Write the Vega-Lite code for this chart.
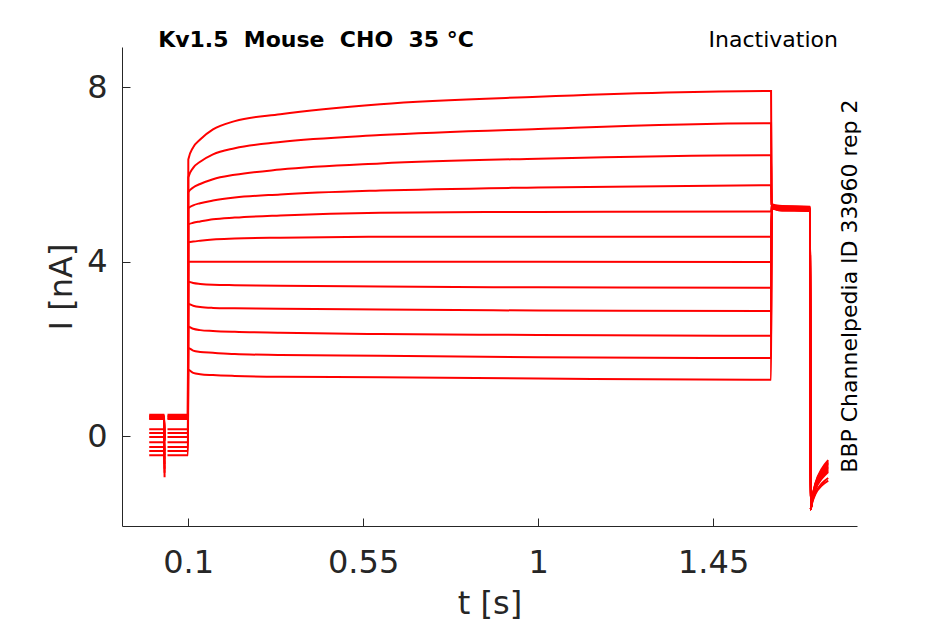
{
  "$schema": "https://vega.github.io/schema/vega-lite/v6.json",
  "width": 735,
  "height": 479,
  "autosize": "none",
  "padding": {"left": 122, "top": 47, "right": 88, "bottom": 98},
  "background": "white",
  "config": {
    "view": {"stroke": null},
    "font": "DejaVu Sans",
    "axis": {
      "grid": false,
      "domainColor": "#262626",
      "domainWidth": 1,
      "tickColor": "#262626",
      "tickWidth": 1,
      "tickSize": -8,
      "labelColor": "#262626",
      "labelFont": "DejaVu Sans",
      "labelFontSize": 32,
      "labelFlush": false,
      "labelOverlap": false,
      "titleColor": "#262626",
      "titleFont": "DejaVu Sans",
      "titleFontSize": 32,
      "titleFontWeight": "normal"
    }
  },
  "datasets": {
    "sweeps": [
      {"sweep": 1, "part": "a", "t": 0.0, "I": 0.49}, {"sweep": 1, "part": "a", "t": 0.0385, "I": 0.49}, {"sweep": 1, "part": "a", "t": 0.0395, "I": -0.01}, {"sweep": 1, "t": 0.047, "I": 0.49}, {"sweep": 1, "t": 0.0995, "I": 0.49},
      {"sweep": 1, "t": 0.1005, "I": 6.34}, {"sweep": 1, "t": 0.113, "I": 6.62}, {"sweep": 1, "t": 0.131, "I": 6.80}, {"sweep": 1, "t": 0.164, "I": 7.03}, {"sweep": 1, "t": 0.22, "I": 7.22}, {"sweep": 1, "t": 0.337, "I": 7.38}, {"sweep": 1, "t": 0.594, "I": 7.61}, {"sweep": 1, "t": 1.0, "I": 7.78}, {"sweep": 1, "t": 1.599, "I": 7.91},
      {"sweep": 1, "t": 1.6005, "I": 5.32}, {"sweep": 1, "t": 1.62, "I": 5.28}, {"sweep": 1, "t": 1.6995, "I": 5.26},
      {"sweep": 1, "t": 1.7005, "I": -1.68}, {"sweep": 1, "t": 1.705, "I": -1.52}, {"sweep": 1, "t": 1.713, "I": -1.33}, {"sweep": 1, "t": 1.73, "I": -1.13}, {"sweep": 1, "t": 1.746, "I": -1.02},

      {"sweep": 2, "part": "a", "t": 0.0, "I": 0.46}, {"sweep": 2, "part": "a", "t": 0.0385, "I": 0.46}, {"sweep": 2, "part": "a", "t": 0.0395, "I": -0.04}, {"sweep": 2, "t": 0.047, "I": 0.46}, {"sweep": 2, "t": 0.0995, "I": 0.46},
      {"sweep": 2, "t": 0.1005, "I": 5.93}, {"sweep": 2, "t": 0.113, "I": 6.15}, {"sweep": 2, "t": 0.131, "I": 6.29}, {"sweep": 2, "t": 0.164, "I": 6.46}, {"sweep": 2, "t": 0.22, "I": 6.60}, {"sweep": 2, "t": 0.337, "I": 6.74}, {"sweep": 2, "t": 0.594, "I": 6.90}, {"sweep": 2, "t": 1.0, "I": 7.04}, {"sweep": 2, "t": 1.599, "I": 7.17},
      {"sweep": 2, "t": 1.6005, "I": 5.31}, {"sweep": 2, "t": 1.62, "I": 5.27}, {"sweep": 2, "t": 1.6995, "I": 5.25},
      {"sweep": 2, "t": 1.7005, "I": -1.68}, {"sweep": 2, "t": 1.705, "I": -1.50}, {"sweep": 2, "t": 1.713, "I": -1.30}, {"sweep": 2, "t": 1.73, "I": -1.08}, {"sweep": 2, "t": 1.746, "I": -0.96},

      {"sweep": 3, "part": "a", "t": 0.0, "I": 0.44}, {"sweep": 3, "part": "a", "t": 0.0385, "I": 0.44}, {"sweep": 3, "part": "a", "t": 0.0395, "I": -0.06}, {"sweep": 3, "t": 0.047, "I": 0.44}, {"sweep": 3, "t": 0.0995, "I": 0.44},
      {"sweep": 3, "t": 0.1005, "I": 5.59}, {"sweep": 3, "t": 0.113, "I": 5.70}, {"sweep": 3, "t": 0.131, "I": 5.78}, {"sweep": 3, "t": 0.164, "I": 5.89}, {"sweep": 3, "t": 0.22, "I": 5.99}, {"sweep": 3, "t": 0.337, "I": 6.11}, {"sweep": 3, "t": 0.594, "I": 6.25}, {"sweep": 3, "t": 1.0, "I": 6.36}, {"sweep": 3, "t": 1.599, "I": 6.44},
      {"sweep": 3, "t": 1.6005, "I": 5.30}, {"sweep": 3, "t": 1.62, "I": 5.26}, {"sweep": 3, "t": 1.6995, "I": 5.24},
      {"sweep": 3, "t": 1.7005, "I": -1.68}, {"sweep": 3, "t": 1.705, "I": -1.47}, {"sweep": 3, "t": 1.713, "I": -1.22}, {"sweep": 3, "t": 1.73, "I": -0.97}, {"sweep": 3, "t": 1.746, "I": -0.82},

      {"sweep": 4, "part": "a", "t": 0.0, "I": 0.41}, {"sweep": 4, "part": "a", "t": 0.0385, "I": 0.41}, {"sweep": 4, "part": "a", "t": 0.0395, "I": -0.09}, {"sweep": 4, "t": 0.047, "I": 0.41}, {"sweep": 4, "t": 0.0995, "I": 0.41},
      {"sweep": 4, "t": 0.1005, "I": 5.22}, {"sweep": 4, "t": 0.113, "I": 5.29}, {"sweep": 4, "t": 0.131, "I": 5.34}, {"sweep": 4, "t": 0.164, "I": 5.40}, {"sweep": 4, "t": 0.22, "I": 5.47}, {"sweep": 4, "t": 0.337, "I": 5.54}, {"sweep": 4, "t": 0.594, "I": 5.63}, {"sweep": 4, "t": 1.0, "I": 5.70}, {"sweep": 4, "t": 1.599, "I": 5.75},
      {"sweep": 4, "t": 1.6005, "I": 5.29}, {"sweep": 4, "t": 1.62, "I": 5.25}, {"sweep": 4, "t": 1.6995, "I": 5.23},
      {"sweep": 4, "t": 1.7005, "I": -1.68}, {"sweep": 4, "t": 1.705, "I": -1.46}, {"sweep": 4, "t": 1.713, "I": -1.21}, {"sweep": 4, "t": 1.73, "I": -0.94}, {"sweep": 4, "t": 1.746, "I": -0.79},

      {"sweep": 5, "part": "a", "t": 0.0, "I": 0.39}, {"sweep": 5, "part": "a", "t": 0.0385, "I": 0.39}, {"sweep": 5, "part": "a", "t": 0.0395, "I": -0.11}, {"sweep": 5, "t": 0.047, "I": 0.39}, {"sweep": 5, "t": 0.0995, "I": 0.39},
      {"sweep": 5, "t": 0.1005, "I": 4.85}, {"sweep": 5, "t": 0.113, "I": 4.89}, {"sweep": 5, "t": 0.131, "I": 4.92}, {"sweep": 5, "t": 0.164, "I": 4.97}, {"sweep": 5, "t": 0.22, "I": 5.01}, {"sweep": 5, "t": 0.337, "I": 5.06}, {"sweep": 5, "t": 0.594, "I": 5.12}, {"sweep": 5, "t": 1.0, "I": 5.14}, {"sweep": 5, "t": 1.599, "I": 5.15},
      {"sweep": 5, "t": 1.6005, "I": 5.28}, {"sweep": 5, "t": 1.62, "I": 5.24}, {"sweep": 5, "t": 1.6995, "I": 5.22},
      {"sweep": 5, "t": 1.7005, "I": -1.68}, {"sweep": 5, "t": 1.705, "I": -1.45}, {"sweep": 5, "t": 1.713, "I": -1.19}, {"sweep": 5, "t": 1.73, "I": -0.92}, {"sweep": 5, "t": 1.746, "I": -0.76},

      {"sweep": 6, "part": "a", "t": 0.0, "I": 0.16}, {"sweep": 6, "part": "a", "t": 0.0385, "I": 0.16}, {"sweep": 6, "part": "a", "t": 0.0395, "I": -0.34}, {"sweep": 6, "t": 0.047, "I": 0.16}, {"sweep": 6, "t": 0.0995, "I": 0.16},
      {"sweep": 6, "t": 0.1005, "I": 4.44}, {"sweep": 6, "t": 0.113, "I": 4.46}, {"sweep": 6, "t": 0.131, "I": 4.48}, {"sweep": 6, "t": 0.164, "I": 4.51}, {"sweep": 6, "t": 0.22, "I": 4.53}, {"sweep": 6, "t": 0.337, "I": 4.55}, {"sweep": 6, "t": 0.594, "I": 4.57}, {"sweep": 6, "t": 1.0, "I": 4.57}, {"sweep": 6, "t": 1.599, "I": 4.57},
      {"sweep": 6, "t": 1.6005, "I": 5.27}, {"sweep": 6, "t": 1.62, "I": 5.23}, {"sweep": 6, "t": 1.6995, "I": 5.21},
      {"sweep": 6, "t": 1.7005, "I": -1.68}, {"sweep": 6, "t": 1.705, "I": -1.44}, {"sweep": 6, "t": 1.713, "I": -1.18}, {"sweep": 6, "t": 1.73, "I": -0.89}, {"sweep": 6, "t": 1.746, "I": -0.73},

      {"sweep": 7, "part": "a", "t": 0.0, "I": 0.07}, {"sweep": 7, "part": "a", "t": 0.0385, "I": 0.07}, {"sweep": 7, "part": "a", "t": 0.0395, "I": -0.43}, {"sweep": 7, "t": 0.047, "I": 0.07}, {"sweep": 7, "t": 0.0995, "I": 0.07},
      {"sweep": 7, "t": 0.1005, "I": 4.00}, {"sweep": 7, "t": 0.113, "I": 4.00}, {"sweep": 7, "t": 0.131, "I": 4.00}, {"sweep": 7, "t": 0.164, "I": 4.00}, {"sweep": 7, "t": 0.22, "I": 4.00}, {"sweep": 7, "t": 0.337, "I": 4.00}, {"sweep": 7, "t": 0.594, "I": 4.00}, {"sweep": 7, "t": 1.0, "I": 4.00}, {"sweep": 7, "t": 1.599, "I": 3.99},
      {"sweep": 7, "t": 1.6005, "I": 5.26}, {"sweep": 7, "t": 1.62, "I": 5.22}, {"sweep": 7, "t": 1.6995, "I": 5.20},
      {"sweep": 7, "t": 1.7005, "I": -1.68}, {"sweep": 7, "t": 1.705, "I": -1.44}, {"sweep": 7, "t": 1.713, "I": -1.16}, {"sweep": 7, "t": 1.73, "I": -0.87}, {"sweep": 7, "t": 1.746, "I": -0.70},

      {"sweep": 8, "part": "a", "t": 0.0, "I": -0.02}, {"sweep": 8, "part": "a", "t": 0.0385, "I": -0.02}, {"sweep": 8, "part": "a", "t": 0.0395, "I": -0.52}, {"sweep": 8, "t": 0.047, "I": -0.02}, {"sweep": 8, "t": 0.0995, "I": -0.02},
      {"sweep": 8, "t": 0.1005, "I": 3.54}, {"sweep": 8, "t": 0.113, "I": 3.51}, {"sweep": 8, "t": 0.131, "I": 3.49}, {"sweep": 8, "t": 0.164, "I": 3.47}, {"sweep": 8, "t": 0.22, "I": 3.46}, {"sweep": 8, "t": 0.337, "I": 3.45}, {"sweep": 8, "t": 0.594, "I": 3.43}, {"sweep": 8, "t": 1.0, "I": 3.41}, {"sweep": 8, "t": 1.599, "I": 3.40},
      {"sweep": 8, "t": 1.6005, "I": 5.25}, {"sweep": 8, "t": 1.62, "I": 5.21}, {"sweep": 8, "t": 1.6995, "I": 5.19},
      {"sweep": 8, "t": 1.7005, "I": -1.68}, {"sweep": 8, "t": 1.705, "I": -1.43}, {"sweep": 8, "t": 1.713, "I": -1.15}, {"sweep": 8, "t": 1.73, "I": -0.84}, {"sweep": 8, "t": 1.746, "I": -0.67},

      {"sweep": 9, "part": "a", "t": 0.0, "I": -0.14}, {"sweep": 9, "part": "a", "t": 0.0385, "I": -0.14}, {"sweep": 9, "part": "a", "t": 0.0395, "I": -0.64}, {"sweep": 9, "t": 0.047, "I": -0.14}, {"sweep": 9, "t": 0.0995, "I": -0.14},
      {"sweep": 9, "t": 0.1005, "I": 3.03}, {"sweep": 9, "t": 0.113, "I": 2.99}, {"sweep": 9, "t": 0.131, "I": 2.96}, {"sweep": 9, "t": 0.164, "I": 2.94}, {"sweep": 9, "t": 0.22, "I": 2.93}, {"sweep": 9, "t": 0.337, "I": 2.92}, {"sweep": 9, "t": 0.594, "I": 2.90}, {"sweep": 9, "t": 1.0, "I": 2.88}, {"sweep": 9, "t": 1.599, "I": 2.87},
      {"sweep": 9, "t": 1.6005, "I": 5.24}, {"sweep": 9, "t": 1.62, "I": 5.20}, {"sweep": 9, "t": 1.6995, "I": 5.18},
      {"sweep": 9, "t": 1.7005, "I": -1.68}, {"sweep": 9, "t": 1.705, "I": -1.42}, {"sweep": 9, "t": 1.713, "I": -1.13}, {"sweep": 9, "t": 1.73, "I": -0.82}, {"sweep": 9, "t": 1.746, "I": -0.64},

      {"sweep": 10, "part": "a", "t": 0.0, "I": -0.25}, {"sweep": 10, "part": "a", "t": 0.0385, "I": -0.25}, {"sweep": 10, "part": "a", "t": 0.0395, "I": -0.75}, {"sweep": 10, "t": 0.047, "I": -0.25}, {"sweep": 10, "t": 0.0995, "I": -0.25},
      {"sweep": 10, "t": 0.1005, "I": 2.51}, {"sweep": 10, "t": 0.113, "I": 2.46}, {"sweep": 10, "t": 0.131, "I": 2.43}, {"sweep": 10, "t": 0.164, "I": 2.41}, {"sweep": 10, "t": 0.22, "I": 2.39}, {"sweep": 10, "t": 0.337, "I": 2.37}, {"sweep": 10, "t": 0.594, "I": 2.34}, {"sweep": 10, "t": 1.0, "I": 2.32}, {"sweep": 10, "t": 1.599, "I": 2.30},
      {"sweep": 10, "t": 1.6005, "I": 5.23}, {"sweep": 10, "t": 1.62, "I": 5.19}, {"sweep": 10, "t": 1.6995, "I": 5.17},
      {"sweep": 10, "t": 1.7005, "I": -1.68}, {"sweep": 10, "t": 1.705, "I": -1.41}, {"sweep": 10, "t": 1.713, "I": -1.11}, {"sweep": 10, "t": 1.73, "I": -0.79}, {"sweep": 10, "t": 1.746, "I": -0.61},

      {"sweep": 11, "part": "a", "t": 0.0, "I": -0.34}, {"sweep": 11, "part": "a", "t": 0.0385, "I": -0.34}, {"sweep": 11, "part": "a", "t": 0.0395, "I": -0.84}, {"sweep": 11, "t": 0.047, "I": -0.34}, {"sweep": 11, "t": 0.0995, "I": -0.34},
      {"sweep": 11, "t": 0.1005, "I": 2.02}, {"sweep": 11, "t": 0.113, "I": 1.96}, {"sweep": 11, "t": 0.131, "I": 1.93}, {"sweep": 11, "t": 0.164, "I": 1.91}, {"sweep": 11, "t": 0.22, "I": 1.88}, {"sweep": 11, "t": 0.337, "I": 1.86}, {"sweep": 11, "t": 0.594, "I": 1.84}, {"sweep": 11, "t": 1.0, "I": 1.81}, {"sweep": 11, "t": 1.599, "I": 1.79},
      {"sweep": 11, "t": 1.6005, "I": 5.22}, {"sweep": 11, "t": 1.62, "I": 5.18}, {"sweep": 11, "t": 1.6995, "I": 5.16},
      {"sweep": 11, "t": 1.7005, "I": -1.68}, {"sweep": 11, "t": 1.705, "I": -1.41}, {"sweep": 11, "t": 1.713, "I": -1.10}, {"sweep": 11, "t": 1.73, "I": -0.77}, {"sweep": 11, "t": 1.746, "I": -0.58},

      {"sweep": 12, "part": "a", "t": 0.0, "I": -0.44}, {"sweep": 12, "part": "a", "t": 0.0385, "I": -0.44}, {"sweep": 12, "part": "a", "t": 0.0395, "I": -0.94}, {"sweep": 12, "t": 0.047, "I": -0.44}, {"sweep": 12, "t": 0.0995, "I": -0.44},
      {"sweep": 12, "t": 0.1005, "I": 1.52}, {"sweep": 12, "t": 0.113, "I": 1.45}, {"sweep": 12, "t": 0.131, "I": 1.42}, {"sweep": 12, "t": 0.164, "I": 1.40}, {"sweep": 12, "t": 0.22, "I": 1.38}, {"sweep": 12, "t": 0.337, "I": 1.36}, {"sweep": 12, "t": 0.594, "I": 1.35}, {"sweep": 12, "t": 1.0, "I": 1.32}, {"sweep": 12, "t": 1.599, "I": 1.29},
      {"sweep": 12, "t": 1.6005, "I": 5.22}, {"sweep": 12, "t": 1.62, "I": 5.18}, {"sweep": 12, "t": 1.6995, "I": 5.16},
      {"sweep": 12, "t": 1.7005, "I": -1.68}, {"sweep": 12, "t": 1.705, "I": -1.40}, {"sweep": 12, "t": 1.713, "I": -1.08}, {"sweep": 12, "t": 1.73, "I": -0.74}, {"sweep": 12, "t": 1.746, "I": -0.55}
    ]
  },
  "layer": [
    {
      "data": {"name": "sweeps"},
      "mark": {"type": "line", "color": "#ff0000", "strokeWidth": 2, "interpolate": "monotone", "clip": true},
      "encoding": {
        "x": {
          "field": "t",
          "type": "quantitative",
          "scale": {"domain": [-0.07, 1.82], "nice": false, "zero": false},
          "axis": {
            "values": [0.1, 0.55, 1, 1.45],
            "labelExpr": "'' + datum.value",
            "labelPadding": 29,
            "title": "t [s]",
            "titleBaseline": "alphabetic",
            "titleX": 367.5,
            "titleY": 87
          }
        },
        "y": {
          "field": "I",
          "type": "quantitative",
          "scale": {"domain": [-2.06, 8.92], "nice": false, "zero": false},
          "axis": {
            "values": [0, 4, 8],
            "format": "d",
            "labelPadding": 23,
            "title": "I [nA]",
            "titleBaseline": "alphabetic",
            "titleX": -51,
            "titleY": 239.5
          }
        },
        "detail": [
          {"field": "sweep", "type": "nominal"},
          {"field": "part", "type": "nominal"}
        ]
      }
    },
    {
      "data": {"values": [{"t": 0.023, "I": 8.92, "label": "Kv1.5\u00a0\u00a0Mouse\u00a0\u00a0CHO\u00a0\u00a035 °C"}]},
      "mark": {"type": "text", "align": "left", "baseline": "alphabetic", "font": "DejaVu Sans", "fontSize": 22, "fontWeight": "bold", "color": "#000000"},
      "encoding": {
        "x": {"field": "t", "type": "quantitative"},
        "y": {"field": "I", "type": "quantitative"},
        "text": {"field": "label"}
      }
    },
    {
      "data": {"values": [{"t": 1.771, "I": 8.92, "label": "Inactivation"}]},
      "mark": {"type": "text", "align": "right", "baseline": "alphabetic", "font": "DejaVu Sans", "fontSize": 22, "color": "#000000"},
      "encoding": {
        "x": {"field": "t", "type": "quantitative"},
        "y": {"field": "I", "type": "quantitative"},
        "text": {"field": "label"}
      }
    },
    {
      "data": {"values": [{"t": 1.82, "I": 3.44, "label": "BBP Channelpedia ID 33960 rep 2"}]},
      "mark": {"type": "text", "align": "center", "baseline": "alphabetic", "angle": 270, "font": "DejaVu Sans", "fontSize": 22, "color": "#000000"},
      "encoding": {
        "x": {"field": "t", "type": "quantitative"},
        "y": {"field": "I", "type": "quantitative"},
        "text": {"field": "label"}
      }
    }
  ]
}
